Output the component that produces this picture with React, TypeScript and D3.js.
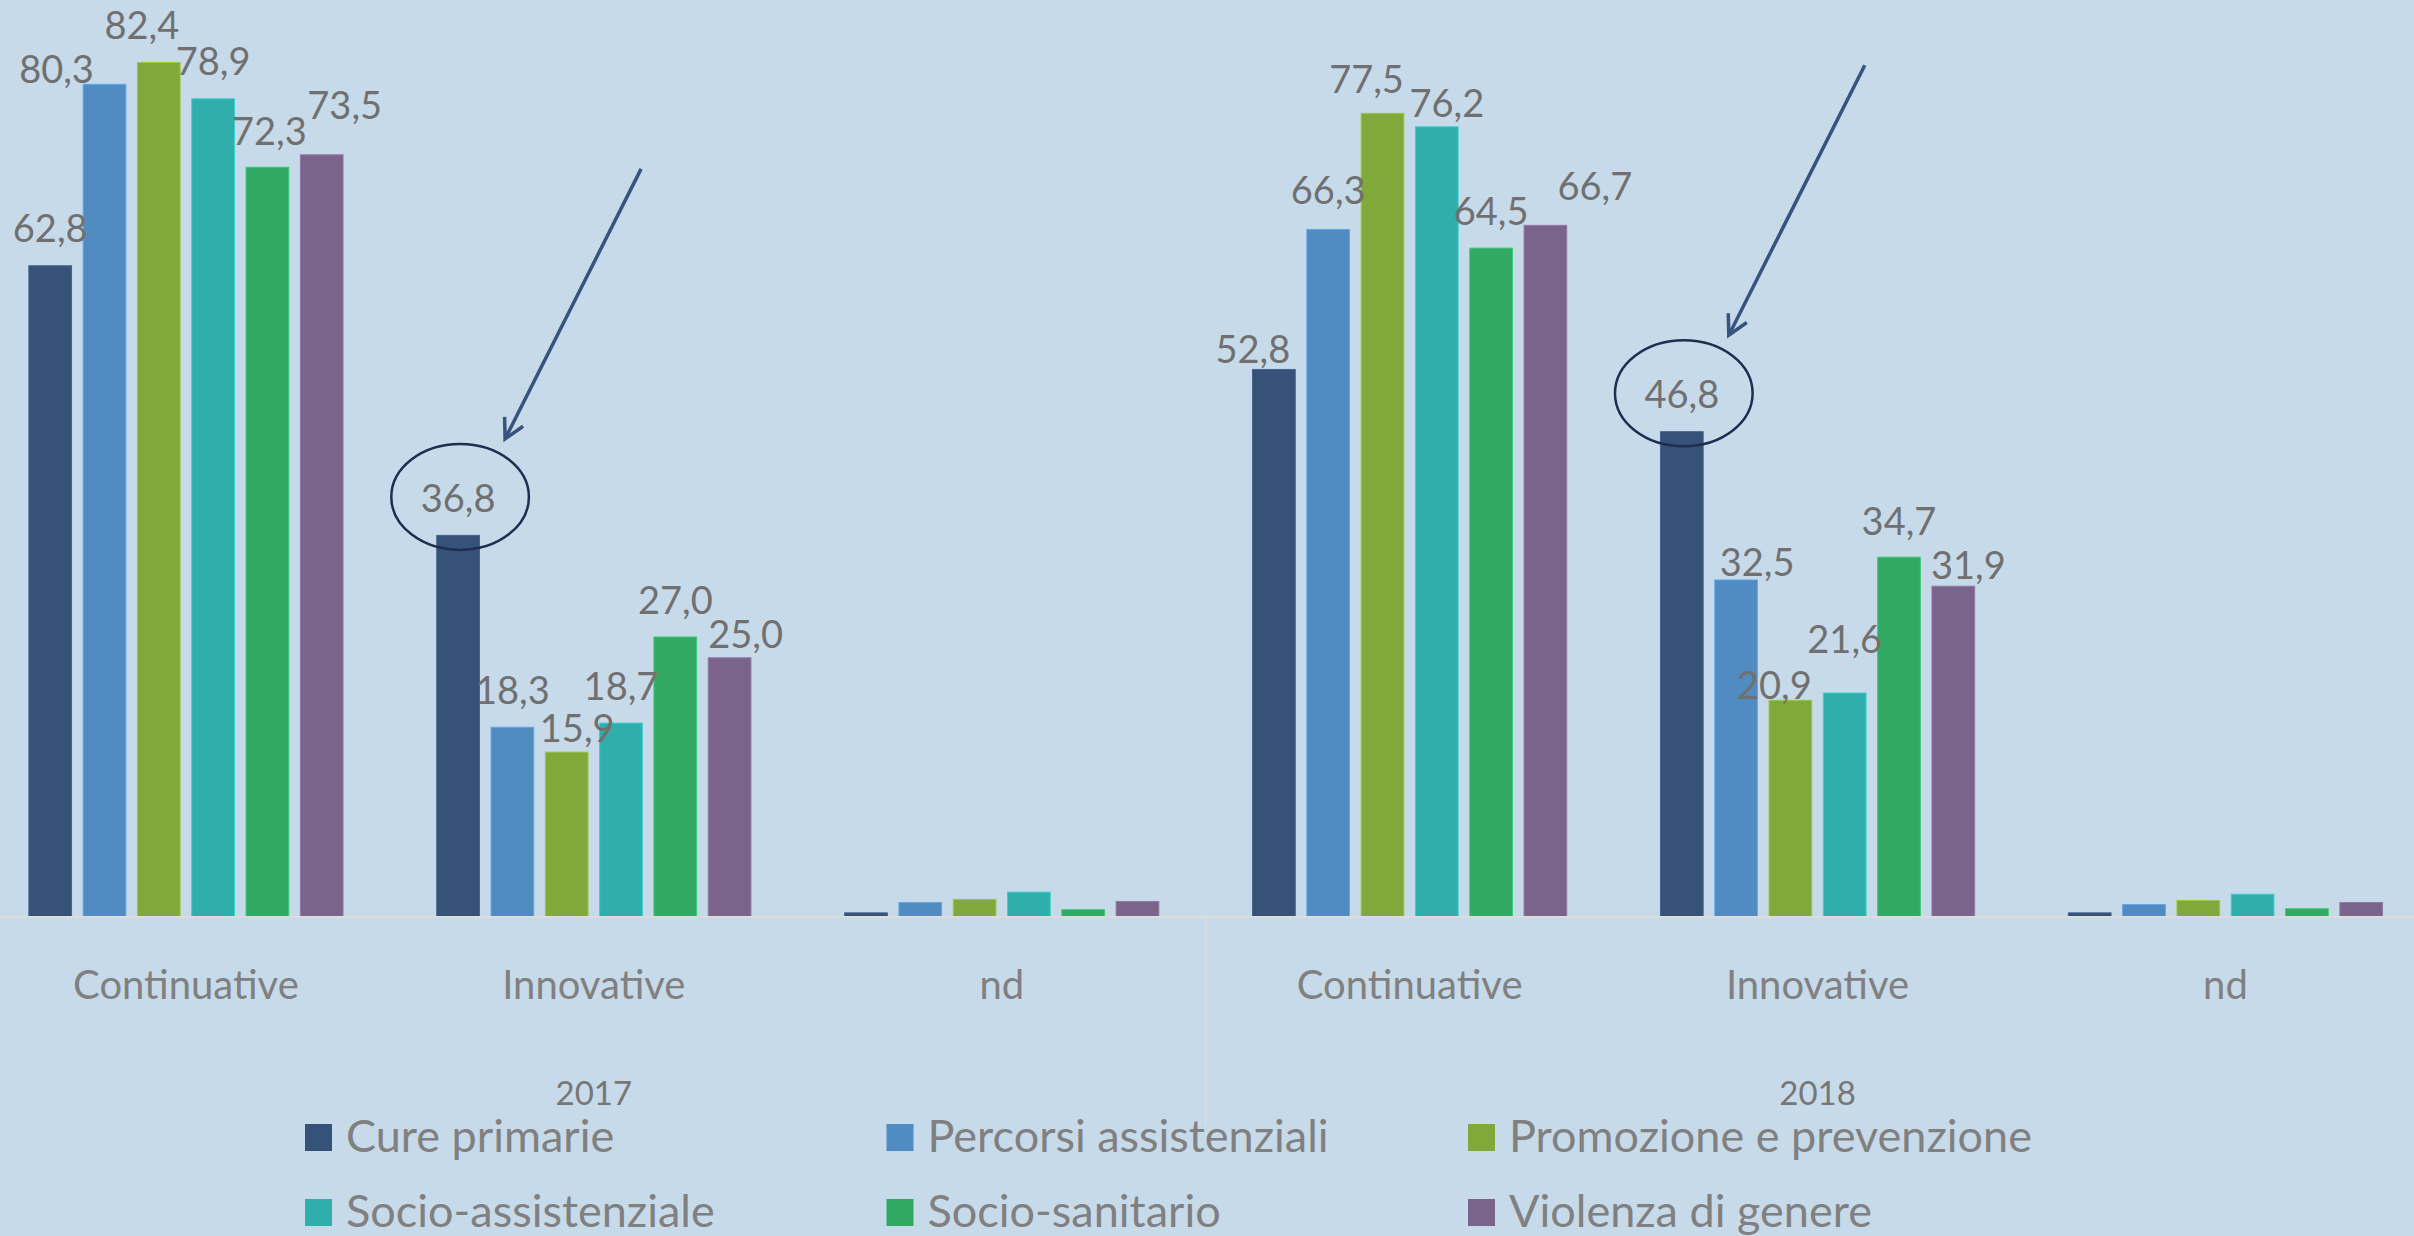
import * as d3 from "d3";

const years = ["2017", "2018"];
const types = ["Continuative", "Innovative", "nd"];
const seriesNames = [
  "Cure primarie",
  "Percorsi assistenziali",
  "Promozione e prevenzione",
  "Socio-assistenziale",
  "Socio-sanitario",
  "Violenza di genere",
];

// valori percentuali per tipo di progetto, ordine = seriesNames
const cont2017 = [62.8, 80.3, 82.4, 78.9, 72.3, 73.5];
const innov2017 = [36.8, 18.3, 15.9, 18.7, 27.0, 25.0];
const nd2017 = [0.4, 1.4, 1.7, 2.4, 0.7, 1.5];
const cont2018 = [52.8, 66.3, 77.5, 76.2, 64.5, 66.7];
const innov2018 = [46.8, 32.5, 20.9, 21.6, 34.7, 31.9];
const nd2018 = [0.4, 1.2, 1.6, 2.2, 0.8, 1.4];

const colors = ["#375279", "#508cc1", "#80a83a", "#30aeab", "#32a962", "#7a648c"];

// label nudges (dx, dy) from the default spot above each bar, nd has no labels
const nudges2017 = [
  [[0, 0], [-48, 22], [-17, 0], [0, 0], [2, 1.5], [23, -12.5]],
  [[0, 0], [0, 0], [10.5, 13], [0, 0], [0, 0], [16, 14]],
];
const nudges2018 = [
  [[-21, 17], [0, -1.5], [-16, 3.5], [10, 14], [0, 0], [49.5, -2]],
  [[0, 0], [21, 20], [-16, 22.5], [0, -16.5], [0, 1], [15, 16]],
];

const W = 2414;
const H = 1236;
const baseY = 917;
const font = "Lato, 'Open Sans', sans-serif";

type Group = { key: string; year: string; type: string; values: number[]; nudges: number[][] | null };

const groups: Group[] = [
  { key: "2017|Continuative", year: "2017", type: types[0], values: cont2017, nudges: nudges2017[0] },
  { key: "2017|Innovative", year: "2017", type: types[1], values: innov2017, nudges: nudges2017[1] },
  { key: "2017|nd", year: "2017", type: types[2], values: nd2017, nudges: null },
  { key: "2018|Continuative", year: "2018", type: types[0], values: cont2018, nudges: nudges2018[0] },
  { key: "2018|Innovative", year: "2018", type: types[1], values: innov2018, nudges: nudges2018[1] },
  { key: "2018|nd", year: "2018", type: types[2], values: nd2018, nudges: null },
];

const fmt = (v: number) => d3.format(".1f")(v).replace(".", ",");

export default function App() {
  const x0 = d3.scaleBand().domain(groups.map((g) => g.key)).range([-18, 2429.4]).padding(0);
  const x1 = d3.scaleBand().domain(seriesNames).range([-157.1, 157.1]).paddingInner(0.2136);
  const y = d3.scaleLinear().domain([0, 90]).range([baseY, baseY - 90 * 10.37]);

  const gc = (key: string) => (x0(key) as number) + x0.bandwidth() / 2;
  const bx = (key: string, s: string) => gc(key) + (x1(s) as number);

  // circle + arrow on the Cure primarie / Innovative bar of each year
  const highlights = years.map((yr) => {
    const key = `${yr}|Innovative`;
    const g = groups.find((d) => d.key === key)!;
    const v = g.values[0];
    const cx = bx(key, seriesNames[0]) + x1.bandwidth() / 2 + 2;
    const cy = y(v) - 23.5 - 15;
    const tip = [cx + 45, cy - 58];
    const start = [tip[0] + 136, tip[1] - 270];
    const ang = Math.atan2(start[1] - tip[1], start[0] - tip[0]);
    const arm = (a: number) => [tip[0] + 22 * Math.cos(ang + a), tip[1] + 22 * Math.sin(ang + a)];
    const a1 = arm(0.49);
    const a2 = arm(-0.49);
    return { cx, cy, tip, start, a1, a2 };
  });

  const legendCols = [305, 886.5, 1468];
  const legendRows = [1124, 1199];

  return (
    <svg width={W} height={H} style={{ position: "absolute", left: 0, top: 0, display: "block" }}>
      <rect x={0} y={0} width={W} height={H} fill="#c7daea" />

      {groups.map((g) => (
        <g key={g.key}>
          {g.values.map((v, i) => {
            const s = seriesNames[i];
            const x = bx(g.key, s);
            return (
              <rect
                key={s}
                x={x}
                y={y(v)}
                width={x1.bandwidth()}
                height={baseY - y(v)}
                fill={colors[i]}
                stroke={d3.color(colors[i])!.brighter(0.5).formatHex()}
                strokeWidth={1}
              />
            );
          })}
        </g>
      ))}

      <line x1={0} x2={W} y1={baseY} y2={baseY} stroke="#dcdcdc" strokeWidth={2} />
      <line
        x1={x0("2018|Continuative") as number}
        x2={x0("2018|Continuative") as number}
        y1={baseY}
        y2={1125}
        stroke="#dcdcdc"
        strokeWidth={2}
      />

      {groups.map((g) =>
        g.nudges
          ? g.values.map((v, i) => {
              const s = seriesNames[i];
              const [dx, dy] = g.nudges![i];
              return (
                <text
                  key={g.key + s}
                  x={bx(g.key, s) + x1.bandwidth() / 2 + dx}
                  y={y(v) - 23.5 + dy}
                  textAnchor="middle"
                  fontFamily={font}
                  fontSize={38}
                  fill="#707070"
                >
                  {fmt(v)}
                </text>
              );
            })
          : null
      )}

      {groups.map((g) => (
        <text key={"cat" + g.key} x={gc(g.key)} y={999} textAnchor="middle" fontFamily={font} fontSize={40} fill="#808080">
          {g.type}
        </text>
      ))}

      {years.map((yr) => (
        <text key={yr} x={gc(`${yr}|Innovative`)} y={1105} textAnchor="middle" fontFamily={font} fontSize={33} fill="#767676">
          {yr}
        </text>
      ))}

      {highlights.map((h, i) => (
        <g key={"hl" + i}>
          <ellipse cx={h.cx} cy={h.cy} rx={68.8} ry={53} fill="none" stroke="#1f2d4e" strokeWidth={2.5} />
          <path
            d={`M${h.start[0]},${h.start[1]}L${h.tip[0]},${h.tip[1]}M${h.a1[0]},${h.a1[1]}L${h.tip[0]},${h.tip[1]}L${h.a2[0]},${h.a2[1]}`}
            fill="none"
            stroke="#37537f"
            strokeWidth={3.5}
          />
        </g>
      ))}

      {seriesNames.map((s, i) => {
        const lx = legendCols[i % 3];
        const ly = legendRows[Math.floor(i / 3)];
        return (
          <g key={"leg" + s}>
            <rect x={lx} y={ly} width={27} height={27} fill={colors[i]} />
            <text x={lx + 41} y={ly + 28} fontFamily={font} fontSize={45} fill="#808080">
              {s}
            </text>
          </g>
        );
      })}
    </svg>
  );
}
